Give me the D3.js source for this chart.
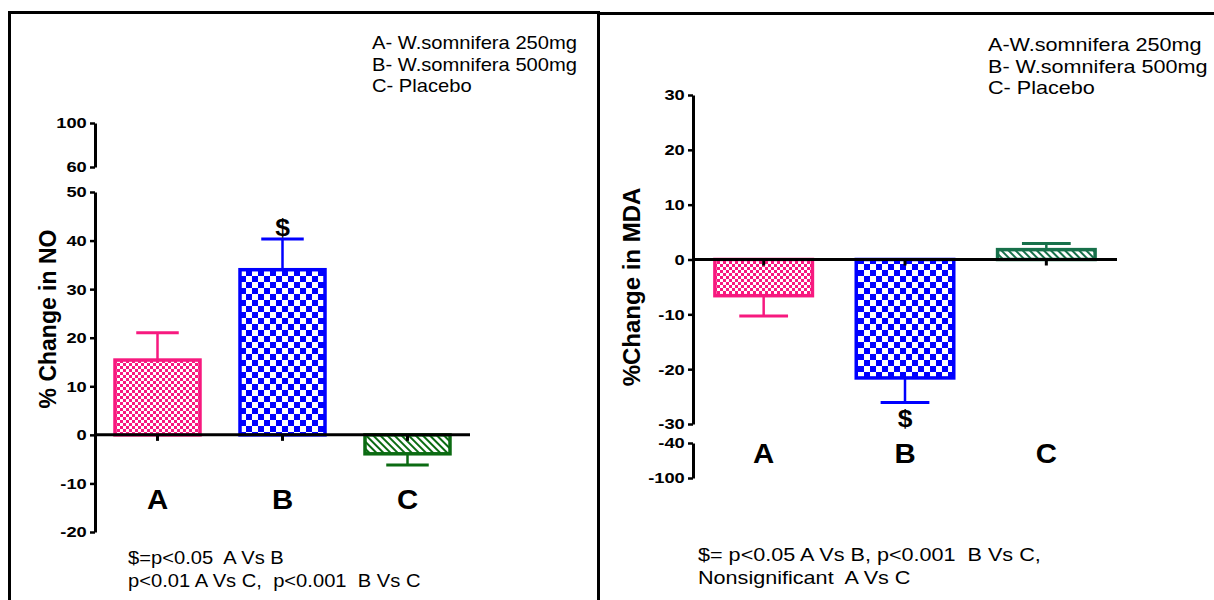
<!DOCTYPE html>
<html>
<head>
<meta charset="utf-8">
<script src="https://cdn.jsdelivr.net/npm/d3@7"></script>
<style>
  body { margin: 0; background: #fff; }
  svg { display: block; }
  text { font-family: "Liberation Sans", Arial, sans-serif; fill: #000; white-space: pre; }
</style>
</head>
<body>
<div id="chart"></div>
<script>
// data
const categories = ["A", "B", "C"];
const noMeans = [15.4, 34.0, -3.9];
const noErr = [5.6, 6.3, 2.3];
const mdaMeans = [-6.6, -21.6, 1.8];
const mdaErr = [3.7, 4.5, 1.1];

const noTicksLow = [-20, -10, 0, 10, 20, 30, 40, 50];
const noTicksHigh = [60, 100];
const mdaTicksHigh = [-30, -20, -10, 0, 10, 20, 30];
const mdaTicksLow = [-100, -40];

const legendLeft = ["A- W.somnifera 250mg", "B- W.somnifera 500mg", "C- Placebo"];
const legendRight = ["A-W.somnifera 250mg", "B- W.somnifera 500mg", "C- Placebo"];
const noteLeft = ["$=p<0.05  A Vs B", "p<0.01 A Vs C,  p<0.001  B Vs C"];
const noteRight = ["$= p<0.05 A Vs B, p<0.001  B Vs C,", "Nonsignificant  A Vs C"];

const width = 1214, height = 600;
const svg = d3.select("#chart").append("svg")
    .attr("width", width)
    .attr("height", height);

// fill patterns
let defs = svg.append("defs");
let pinkPat = defs.append("pattern").attr("id", "pinkChk")
    .attr("patternUnits", "userSpaceOnUse").attr("width", 6).attr("height", 6);
pinkPat.append("rect").attr("width", 6).attr("height", 6).attr("fill", "#fff");
pinkPat.append("rect").attr("width", 3).attr("height", 3).attr("fill", "#f7197f");
pinkPat.append("rect").attr("x", 3).attr("y", 3).attr("width", 3).attr("height", 3).attr("fill", "#f7197f");

let bluePat = defs.append("pattern").attr("id", "blueChk")
    .attr("patternUnits", "userSpaceOnUse").attr("width", 12).attr("height", 12);
bluePat.append("rect").attr("width", 12).attr("height", 12).attr("fill", "#fff");
bluePat.append("rect").attr("width", 6).attr("height", 6).attr("fill", "#0000ff");
bluePat.append("rect").attr("x", 6).attr("y", 6).attr("width", 6).attr("height", 6).attr("fill", "#0000ff");

function hatch(id, color) {
    let p = defs.append("pattern").attr("id", id)
        .attr("patternUnits", "userSpaceOnUse").attr("width", 5).attr("height", 5)
        .attr("patternTransform", "rotate(-45)");
    p.append("rect").attr("width", 5).attr("height", 5).attr("fill", "#fff");
    p.append("rect").attr("width", 2).attr("height", 5).attr("fill", color);
}
hatch("greenL", "#0b6b12");
hatch("greenR", "#17704a");

// panel frames
svg.append("rect").attr("x", 9.5).attr("y", 12.5).attr("width", 589).attr("height", 600)
    .attr("fill", "none").attr("stroke", "#000").attr("stroke-width", 3);
svg.append("line").attr("x1", 598).attr("x2", width).attr("y1", 13.5).attr("y2", 13.5)
    .attr("stroke", "#000").attr("stroke-width", 3);

// the source picture is stretched sideways, so text gets a horizontal scale
function wideText(g, x, y, sx, txt) {
    return g.append("text")
        .attr("transform", `translate(${x},${y}) scale(${sx},1)`)
        .text(txt);
}

/**
 * draws one bar panel
 */
function panel(cfg) {
    let g = svg.append("g");

    let x = d3.scaleBand().domain(categories)
        .range([cfg.axisX, cfg.axisEnd])
        .paddingInner(cfg.pad).paddingOuter(cfg.pad / 2);
    let y = d3.scaleLinear().domain(cfg.mainDomain).range(cfg.mainRange);
    let y2 = d3.scaleLinear().domain(cfg.breakDomain).range(cfg.breakRange);

    // y axes (main segment and broken segment)
    [[y, cfg.mainTicks], [y2, cfg.breakTicks]].forEach(([sc, ticks]) => {
        let ax = g.append("g").attr("transform", `translate(${cfg.axisX},0)`)
            .call(d3.axisLeft(sc).tickValues(ticks).tickFormat(d => String(d))
                .tickSize(5).tickPadding(2).tickSizeOuter(0));
        ax.select(".domain").attr("stroke-width", 3);
        ax.selectAll(".tick line").attr("stroke-width", 2.5);
        ax.selectAll(".tick text")
            .attr("transform", "scale(1.18,1)")
            .style("font-size", "15.5px").style("font-weight", "bold")
            .attr("font-family", "Liberation Sans, Arial, sans-serif");
    });

    let colors = cfg.colors, fills = cfg.fills;

    // bars
    g.selectAll("rect.bar").data(cfg.means).enter().append("rect")
        .attr("class", "bar")
        .attr("x", (d, i) => x(categories[i]))
        .attr("width", x.bandwidth())
        .attr("y", d => Math.min(y(0), y(d)))
        .attr("height", d => Math.abs(y(d) - y(0)))
        .attr("fill", (d, i) => `url(#${fills[i]})`)
        .attr("stroke", (d, i) => colors[i])
        .attr("stroke-width", 3.5);

    // error bars, one sided (away from zero)
    cfg.means.forEach((m, i) => {
        let cx = x(categories[i]) + x.bandwidth() / 2;
        let end = m + Math.sign(m) * cfg.errs[i];
        let half = x.bandwidth() * 0.25;
        g.append("line").attr("x1", cx).attr("x2", cx).attr("y1", y(m)).attr("y2", y(end))
            .attr("stroke", colors[i]).attr("stroke-width", 2.5);
        g.append("line").attr("x1", cx - half).attr("x2", cx + half).attr("y1", y(end)).attr("y2", y(end))
            .attr("stroke", colors[i]).attr("stroke-width", 3);
    });

    // zero line + category ticks
    g.append("line").attr("x1", cfg.axisX).attr("x2", cfg.axisEnd).attr("y1", y(0)).attr("y2", y(0))
        .attr("stroke", "#000").attr("stroke-width", 3);
    categories.forEach(c => {
        let cx = x(c) + x.bandwidth() / 2;
        g.append("line").attr("x1", cx).attr("x2", cx).attr("y1", y(0)).attr("y2", y(0) + 6)
            .attr("stroke", "#000").attr("stroke-width", 3);
        wideText(g, cx, cfg.catY, 1.05, c)
            .attr("text-anchor", "middle")
            .style("font-size", "28px").style("font-weight", "bold");
    });

    // significance mark
    wideText(g, x("B") + x.bandwidth() / 2, cfg.dollarY, 1.1, "$")
        .attr("text-anchor", "middle")
        .style("font-size", "24px").style("font-weight", "bold");

    // y label
    g.append("text")
        .attr("transform", `translate(${cfg.labelX},${cfg.labelY}) rotate(-90)`)
        .attr("text-anchor", "middle")
        .style("font-size", cfg.labelSize + "px").style("font-weight", "bold").text(cfg.label);

    // legend + footnote
    cfg.legend.forEach((t, i) => {
        wideText(g, cfg.legendX, cfg.legendY + i * 21.5, cfg.sx, t).style("font-size", "18px");
    });
    cfg.note.forEach((t, i) => {
        wideText(g, cfg.noteX, cfg.noteY + i * 23, cfg.sx, t).style("font-size", "18px");
    });
}

panel({
    axisX: 95, axisEnd: 470, pad: 0.32,
    mainDomain: [-20, 50], mainRange: [532, 192], mainTicks: noTicksLow,
    breakDomain: [60, 100], breakRange: [167, 123], breakTicks: noTicksHigh,
    means: noMeans, errs: noErr,
    colors: ["#f7197f", "#0000ff", "#0b6b12"], fills: ["pinkChk", "blueChk", "greenL"],
    catY: 509, dollarY: 236,
    label: "% Change in NO", labelX: 56, labelY: 319, labelSize: 23,
    legend: legendLeft, legendX: 372, legendY: 49,
    note: noteLeft, noteX: 128, noteY: 564, sx: 1.12
});

panel({
    axisX: 693, axisEnd: 1117, pad: 0.31,
    mainDomain: [-30, 30], mainRange: [424, 95], mainTicks: mdaTicksHigh,
    breakDomain: [-100, -40], breakRange: [478, 443], breakTicks: mdaTicksLow,
    means: mdaMeans, errs: mdaErr,
    colors: ["#f7197f", "#0000ff", "#17704a"], fills: ["pinkChk", "blueChk", "greenR"],
    catY: 463, dollarY: 427,
    label: "%Change in MDA", labelX: 640, labelY: 287, labelSize: 24,
    legend: legendRight, legendX: 988, legendY: 51,
    note: noteRight, noteX: 698, noteY: 561, sx: 1.2
});
</script>
</body>
</html>
